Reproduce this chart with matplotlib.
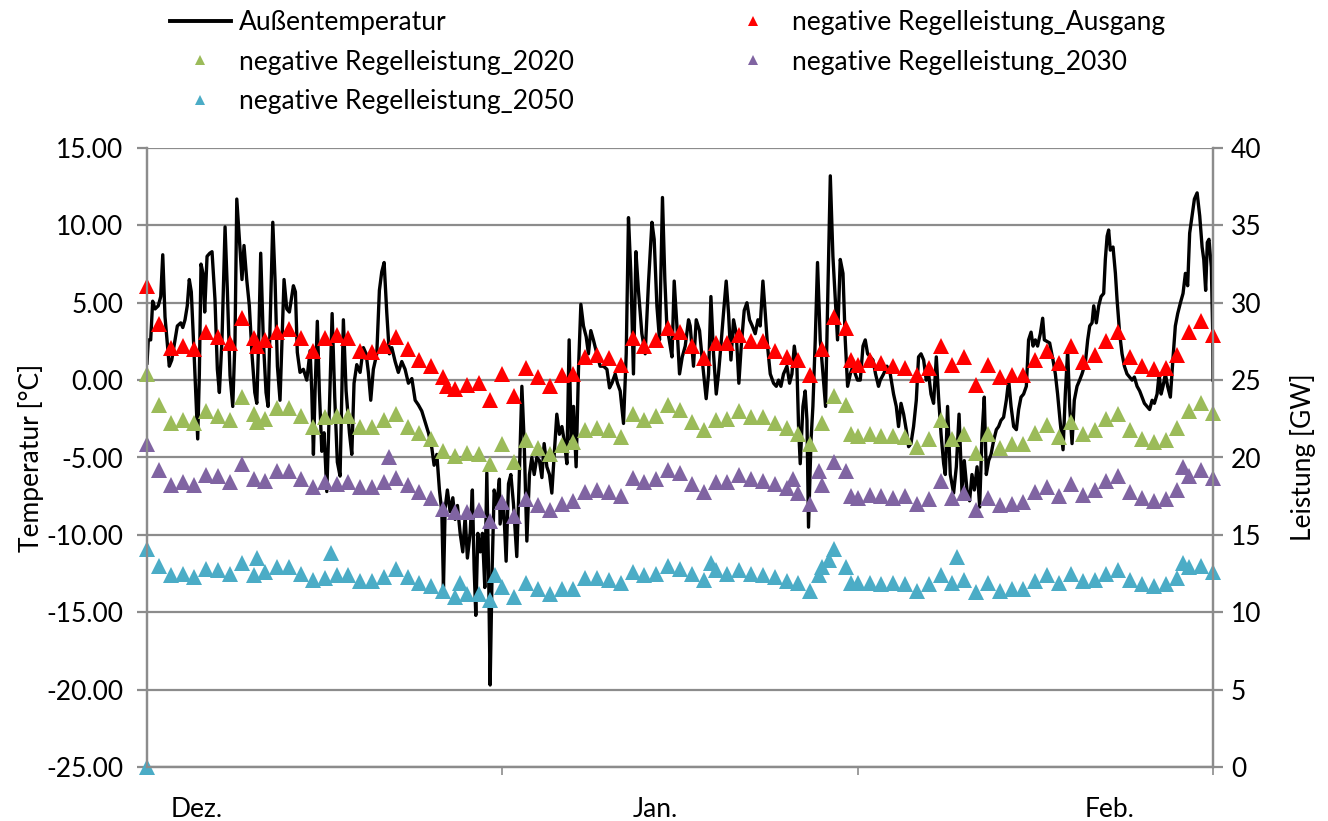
import numpy as np
import matplotlib.pyplot as plt
from matplotlib.lines import Line2D
from matplotlib.transforms import blended_transform_factory

plt.rcParams['font.family'] = ['Lato', 'DejaVu Sans']

# --- data -------------------------------------------------------------
# days since 1 Dec (0 .. 90), one value per day for the triangle series
days = np.arange(91)

ausgang = [31.1, 28.6, 27.1, 27.2, 27.0, 28.1, 27.8, 27.4, 29.0, 27.7,
           27.6, 28.1, 28.3, 27.7, 26.9, 27.7, 27.9, 27.7, 26.9, 26.8,
           27.2, 27.8, 27.0, 26.3, 25.9, 25.2, 24.4, 24.7, 24.8, 23.7,
           25.4, 24.0, 25.8, 25.2, 24.6, 25.3, 25.4, 26.5, 26.6, 26.4,
           26.0, 27.7, 27.2, 27.6, 28.4, 28.1, 27.2, 26.4, 27.4, 27.4,
           27.9, 27.5, 27.5, 26.9, 26.5, 26.3, 25.3, 27.0, 29.1, 28.4,
           26.0, 26.3, 26.1, 25.9, 25.8, 25.3, 25.8, 27.2, 26.0, 26.5,
           24.7, 26.0, 25.2, 25.3, 25.3, 26.3, 26.9, 26.1, 27.2, 26.2,
           26.6, 27.5, 28.1, 26.5, 25.9, 25.7, 25.8, 26.6, 28.1, 28.8,
           27.9]
r2020 = [25.4, 23.4, 22.2, 22.4, 22.2, 23.0, 22.7, 22.4, 23.9, 22.8,
         22.5, 23.2, 23.2, 22.7, 22.0, 22.6, 22.7, 22.7, 22.0, 22.0,
         22.4, 22.8, 22.0, 21.6, 21.2, 20.4, 20.1, 20.3, 20.2, 19.6,
         20.9, 19.7, 21.1, 20.6, 20.2, 20.8, 21.0, 21.8, 21.9, 21.8,
         21.3, 22.8, 22.4, 22.7, 23.4, 23.1, 22.3, 21.8, 22.4, 22.5,
         23.0, 22.6, 22.6, 22.2, 21.9, 21.5, 20.9, 22.2, 24.0, 23.4,
         21.4, 21.5, 21.4, 21.4, 21.3, 20.7, 21.2, 22.4, 21.2, 21.5,
         20.3, 21.5, 20.6, 20.9, 20.9, 21.6, 22.1, 21.3, 22.3, 21.5,
         21.8, 22.5, 22.8, 21.8, 21.2, 21.0, 21.1, 21.9, 23.0, 23.5,
         22.9]
r2030 = [20.9, 19.2, 18.2, 18.4, 18.2, 18.9, 18.8, 18.4, 19.6, 18.6,
         18.5, 19.1, 19.1, 18.6, 18.1, 18.4, 18.3, 18.4, 18.1, 18.1,
         18.4, 18.7, 18.2, 17.8, 17.4, 16.7, 16.5, 16.5, 16.6, 15.9,
         17.1, 16.2, 17.3, 16.9, 16.6, 17.0, 17.2, 17.8, 17.9, 17.8,
         17.5, 18.7, 18.4, 18.6, 19.2, 19.0, 18.3, 17.8, 18.4, 18.4,
         18.9, 18.6, 18.5, 18.3, 18.0, 17.7, 17.0, 18.2, 19.7, 19.1,
         17.4, 17.6, 17.5, 17.4, 17.5, 17.0, 17.3, 18.5, 17.4, 17.7,
         16.6, 17.4, 16.9, 17.0, 17.1, 17.8, 18.1, 17.5, 18.3, 17.6,
         17.9, 18.5, 18.8, 17.8, 17.4, 17.2, 17.3, 17.9, 18.8, 19.2,
         18.7]
r2050 = [14.1, 13.0, 12.4, 12.5, 12.3, 12.8, 12.7, 12.5, 13.2, 12.4,
         12.6, 12.9, 12.9, 12.5, 12.1, 12.2, 12.4, 12.4, 12.0, 12.0,
         12.3, 12.8, 12.3, 11.9, 11.7, 11.4, 11.0, 11.2, 11.2, 10.8,
         11.6, 11.0, 11.9, 11.5, 11.2, 11.5, 11.5, 12.2, 12.2, 12.1,
         11.9, 12.6, 12.4, 12.5, 13.0, 12.8, 12.5, 12.1, 12.7, 12.5,
         12.7, 12.5, 12.4, 12.3, 12.0, 11.9, 11.4, 12.9, 14.1, 12.9,
         11.9, 11.9, 11.8, 11.9, 11.8, 11.4, 11.8, 12.4, 11.9, 12.1,
         11.3, 11.9, 11.4, 11.5, 11.5, 12.0, 12.4, 11.9, 12.5, 12.0,
         12.1, 12.5, 12.7, 12.1, 11.8, 11.7, 11.8, 12.2, 12.9, 13.0,
         12.6]

# a few days carry a second value
ausgang_xd = [9.3, 25.3, 59.4]
ausgang_xv = [27.2, 24.6, 26.3]
r2020_xd = [9.3, 59.4]
r2020_xv = [22.3, 21.5]
r2030_xd = [20.4, 54.5, 56.7, 59.4, 87.5]
r2030_xv = [20.0, 18.6, 19.1, 17.5, 19.4]
r2050_xd = [0.0, 9.3, 15.5, 26.4, 29.4, 47.6, 56.7, 57.6, 59.4, 68.4, 87.5]
r2050_xv = [0.0, 13.5, 13.8, 11.9, 12.4, 13.2, 12.4, 13.4, 11.9, 13.6, 13.2]

# outside temperature (days, degC)
temp_day = [0.0, 0.11, 0.31, 0.48, 0.68, 0.95, 1.16, 1.33, 1.52, 1.71,
            1.88, 2.09, 2.28, 2.56, 2.85, 3.02, 3.21, 3.40, 3.57, 3.74,
            3.97, 4.28, 4.42, 4.56, 4.73, 4.87, 5.07, 5.30, 5.49, 5.74,
            5.94, 6.11, 6.33, 6.59, 6.78, 7.01, 7.24, 7.43, 7.58, 7.80,
            8.02, 8.19, 8.42, 8.64, 8.87, 9.10, 9.27, 9.43, 9.60, 9.82,
            10.05, 10.22, 10.39, 10.62, 10.81, 11.01, 11.23, 11.40, 11.57, 11.80,
            12.02, 12.36, 12.53, 12.69, 12.92, 13.20, 13.49,
            13.77, 13.91, 14.05, 14.19, 14.38, 14.55, 14.76, 14.95, 15.18, 15.40,
            15.63, 15.85, 16.07, 16.30, 16.58, 16.81, 17.09, 17.29, 17.48, 17.71,
            17.99, 18.27, 18.50, 18.69, 18.89, 19.11, 19.40, 19.62, 19.82, 20.02,
            20.24, 20.46, 20.67, 20.95, 21.22, 21.51, 21.79, 22.07, 22.36, 22.64,
            22.91, 23.20, 23.48, 23.76, 24.05, 24.24, 24.47, 24.69, 24.89, 25.03,
            25.17, 25.36, 25.59, 25.82, 26.01, 26.21, 26.44, 26.66, 26.86, 27.05,
            27.28, 27.47, 27.62, 27.76, 27.93, 28.13, 28.32, 28.52, 28.69, 28.86,
            28.97, 29.14, 29.31, 29.54, 29.75,
            29.81, 30.09, 30.32, 30.52, 30.72, 30.94, 31.22, 31.42, 31.65, 31.84,
            32.07, 32.29, 32.49, 32.69, 32.91, 33.13, 33.34, 33.53, 33.76, 33.98,
            34.18, 34.38, 34.60, 34.82, 35.03, 35.22, 35.45, 35.64, 35.81, 36.01,
            36.23, 36.43, 36.63, 36.85, 37.08, 37.27, 37.47, 37.69, 37.98, 38.26,
            38.54, 38.83, 39.05, 39.25, 39.53, 39.72, 39.95, 40.23, 40.46, 40.65,
            40.85, 41.07, 41.28, 41.49, 41.78, 42.06, 42.34, 42.63, 42.82, 43.05,
            43.27, 43.52, 43.72, 43.89, 44.09, 44.32, 44.51, 44.74, 44.96, 45.19,
            45.44, 45.72,
            45.86, 46.14, 46.37, 46.65, 46.93, 47.21, 47.41, 47.61, 47.83, 48.06,
            48.25, 48.45, 48.67, 48.90, 49.10, 49.30, 49.52, 49.75, 49.97, 50.17,
            50.42, 50.65, 50.87, 51.10, 51.35, 51.58, 51.77, 52.00, 52.20, 52.39,
            52.62, 52.90, 53.13, 53.32, 53.52, 53.74, 54.03, 54.25, 54.45, 54.65,
            54.87, 55.01, 55.15, 55.38, 55.57, 55.72, 55.85, 56.06, 56.22, 56.42,
            56.61, 56.84, 57.07, 57.29, 57.46, 57.69, 57.91, 58.11, 58.30, 58.53,
            58.76, 58.95, 59.15, 59.38, 59.60, 59.80, 59.99, 60.22, 60.45, 60.64,
            60.84, 61.06, 61.29, 61.51, 61.76,
            61.91, 62.19, 62.47, 62.75, 63.03, 63.26, 63.45, 63.66, 63.88, 64.10,
            64.30, 64.50, 64.72, 64.95, 65.14, 65.35, 65.57, 65.79, 65.99, 66.19,
            66.41, 66.64, 66.83, 67.04, 67.26, 67.40, 67.59, 67.82, 68.10, 68.33,
            68.56, 68.81, 69.00, 69.23, 69.45, 69.65, 69.85, 70.08, 70.30, 70.50,
            70.69, 70.86, 71.06, 71.26, 71.48, 71.71, 71.90, 72.10, 72.32, 72.55,
            72.75, 72.95, 73.17, 73.40, 73.59, 73.79, 74.01, 74.24, 74.43, 74.64,
            74.81, 75.00, 75.19, 75.42, 75.62, 75.76, 75.99, 76.21,
            76.49, 76.69, 76.88, 77.11, 77.34, 77.53, 77.73, 77.90, 78.10, 78.29,
            78.52, 78.74, 78.94, 79.22, 79.42, 79.59, 79.79, 79.93, 80.15, 80.35,
            80.55, 80.77, 80.91, 81.06, 81.19, 81.33, 81.56, 81.76, 81.90, 82.12,
            82.32, 82.52, 82.74, 82.96, 83.17, 83.36, 83.59, 83.81, 84.01, 84.21,
            84.43, 84.65, 84.86, 85.05, 85.28, 85.45, 85.62, 85.78, 85.98, 86.17,
            86.40, 86.63, 86.82, 87.02, 87.25, 87.47, 87.67, 87.86, 88.03, 88.23,
            88.43, 88.66, 88.88, 89.08, 89.22, 89.38, 89.52, 89.66, 89.86, 89.99,
            90.0]
temp_val = [1.1, 2.6, 2.6, 5.1, 4.6, 4.8, 5.4, 8.1, 4.1, 2.4,
            0.9, 1.3, 2.2, 3.5, 3.7, 3.4, 3.9, 4.8, 6.5, 5.7,
            1.8, -3.8, 0.4, 7.5, 6.9, 4.4, 8.0, 8.2, 8.3, 5.2,
            0.7, -0.8, 2.6, 9.9, 5.9, 0.3, -1.7, 2.6, 11.7, 9.1,
            6.5, 8.7, 6.5, 4.8, 1.6, -0.8, -1.5, 2.6, 8.2, 2.6,
            -0.8, -1.7, 3.5, 10.2, 6.5, 0.9, -1.3, 2.6, 6.5, 4.6,
            4.4, 6.1, 5.7, 1.8, 0.5, 0.7, 0.0,
            1.9, -0.7, -4.8, -0.7, 3.8, -0.7, -4.6, -3.4, -7.2, -1.8,
            4.3, -1.1, -5.3, -6.2, 3.9, -0.7, -3.4, -4.8, -0.2, 1.0,
            0.5, 2.1, 1.7, 0.5, -1.3, 0.7, 1.7, 5.8, 7.0, 7.6,
            4.4, 1.7, 2.1, 1.2, 0.5, 1.2, 0.7, -0.2, 0.1, -1.3,
            -1.6, -2.0, -2.7, -3.4, -4.4, -5.5, -4.8, -7.1, -8.5, -13.4,
            -8.3, -7.1, -8.5, -7.6, -9.0, -8.1, -9.9, -11.1, -8.8, -11.5,
            -9.9, -7.1, -12.2, -15.2, -9.9, -11.1, -9.9, -13.4, -6.0, -13.4,
            -19.7, -12.2, -7.1, -8.1, -6.4,
            -9.3, -7.8, -11.7, -6.7, -6.1, -8.0, -11.4, -6.5, -0.4, -3.9,
            -10.4, -6.1, -5.0, -6.1, -5.0, -5.2, -6.3, -4.1, -5.6, -6.1,
            -7.3, -4.8, -2.2, -3.5, -3.0, -3.9, -5.4, 2.6, -3.9, -1.7,
            -5.6, 0.7, 4.9, 3.5, 2.8, 1.7, 3.2, 2.6, 1.7, 0.9,
            0.9, 0.7, -0.5, -0.2, 0.4, -0.2, -0.7, -2.8, 1.7, 10.5,
            6.9, 0.4, 8.3, 5.8, 3.0, 1.7, 6.3, 10.2, 9.1, 4.8,
            2.6, 11.8, 6.5, 3.5, 2.6, 1.5, 6.4, 3.5, 0.4, 1.5,
            2.2, 3.9,
            3.5, 0.9, 3.9, 3.2, 0.9, -1.2, 0.4, 5.4, 1.7, -0.9,
            0.4, 2.2, 4.3, 6.4, 4.3, 1.3, 3.9, 3.0, -0.2, 2.2,
            4.5, 5.0, 3.9, 3.5, 3.0, 3.9, 3.5, 6.4, 4.3, 2.2,
            0.4, -0.2, -0.4, 0.0, -0.4, 0.4, 0.9, -0.2, 0.4, 2.2,
            0.9, -3.0, -5.4, -1.7, -0.7, -2.6, -9.5, -3.9, -1.7, 2.6,
            7.6, 2.6, 0.4, -1.7, 4.8, 13.2, 8.0, 5.2, 2.6, 7.8,
            6.9, 2.6, -0.4, 0.4, 0.9, 0.4, 0.0, 0.0, 2.2, 2.6,
            1.7, 1.5, 1.3, 0.4, -0.4,
            0.0, 0.4, 0.9, 0.4, -0.9, -1.7, -3.0, -1.5, -2.2, -3.2,
            -4.3, -4.1, -3.0, -1.3, 1.5, 1.7, 1.3, 0.0, 0.4, -0.9,
            -1.5, 1.5, -1.1, -3.5, -5.4, -6.1, -1.7, -6.1, -7.3, -5.6,
            -2.2, -7.3, -5.2, -7.1, -7.8, -6.1, -7.1, -5.6, -8.2, -3.5,
            -1.1, -6.1, -5.2, -4.8, -3.9, -3.2, -3.0, -2.6, -2.4, -1.3,
            0.0, -1.7, -3.0, -3.2, -1.9, -1.1, -0.9, -0.4, 2.6, 3.1,
            2.2, 2.6, 2.2, 3.0, 4.0, 2.6, 2.5, 2.4,
            1.3, 0.4, -0.9, -2.8, -4.5, -0.9, 1.9, -1.7, -4.1, -1.3,
            -0.4, 0.0, 0.4, 1.1, 2.6, 3.5, 3.7, 4.8, 3.7, 4.8,
            5.4, 5.6, 7.8, 9.3, 9.7, 8.4, 8.6, 6.9, 5.2, 3.0,
            1.7, 0.9, 0.4, 0.2, 0.0, 0.2, -0.4, -0.7, -1.1, -1.5,
            -1.7, -1.9, -1.3, -1.5, -0.9, 0.4, -0.9, -0.4, 0.4, -0.4,
            -1.1, 1.5, 3.5, 4.3, 5.0, 5.6, 6.9, 6.1, 9.5, 10.6,
            11.7, 12.1, 10.6, 8.6, 7.8, 5.8, 8.9, 9.1, 7.3, 2.6,
            0.0]

month_labels = ['Dez.', 'Jan.', 'Feb.']
month_label_pos = [4.2, 42.9, 81.3]
major_ticks = [0, 30, 60, 90]

red = '#FF0000'
green = '#9BBB59'
purple = '#8064A2'
cyan = '#4BACC6'
grid_c = '#8C8C8C'

# --- figure -----------------------------------------------------------
fig = plt.figure(figsize=(13.28, 8.21), dpi=100)
ax = fig.add_axes([147 / 1328, 1 - 767 / 821, 1066 / 1328, 619 / 821])
ax2 = ax.twinx()

ax.plot(temp_day, temp_val, color='black', lw=2.4, zorder=2)

ms = 11
for vals, xd, xv, col in [(ausgang, ausgang_xd, ausgang_xv, red),
                          (r2020, r2020_xd, r2020_xv, green),
                          (r2030, r2030_xd, r2030_xv, purple),
                          (r2050, r2050_xd, r2050_xv, cyan)]:
    ax2.plot(days, vals, ls='none', marker='^', ms=ms, mew=0, color=col,
             clip_on=False)
    ax2.plot(xd, xv, ls='none', marker='^', ms=ms, mew=0, color=col,
             clip_on=False)

ax.set_xlim(0, 90)
ax.set_ylim(-25, 15)
ax2.set_ylim(0, 40)

ax.set_yticks(np.arange(-25, 16, 5))
ax.set_yticklabels(['%.2f' % v for v in np.arange(-25, 16, 5)])
ax2.set_yticks(np.arange(0, 41, 5))
ax.yaxis.grid(True, color=grid_c, lw=1.6)
ax.set_axisbelow(True)

ax.set_xticks(major_ticks)
ax.set_xticklabels([])
trans = blended_transform_factory(ax.transData, ax.transAxes)
for lab, pos in zip(month_labels, month_label_pos):
    ax.text(pos, -0.068, lab, transform=trans, ha='center', va='center',
            fontsize=19)

for a in (ax, ax2):
    for s in a.spines.values():
        s.set_color(grid_c)
        s.set_linewidth(1.6)
    a.spines['top'].set_visible(False)
ax.tick_params(axis='x', length=6, width=1.2, color=grid_c)
ax.tick_params(axis='y', length=7, width=1.6, color=grid_c, labelsize=19,
               pad=10)
ax2.tick_params(axis='y', length=7, width=1.6, color=grid_c, labelsize=19,
                pad=6)

ax.set_ylabel('Temperatur [°C]', fontsize=19)
ax.yaxis.set_label_coords(-0.097, 0.5)
ax2.set_ylabel('Leistung [GW]', fontsize=19, rotation=90)
ax2.yaxis.set_label_coords(1.072, 0.5)

# --- legend -----------------------------------------------------------
h_temp = Line2D([], [], color='black', lw=2.8)
def tri(c):
    return Line2D([], [], ls='none', marker='^', ms=6.5, mew=0, color=c)

leg_kw = dict(frameon=False, fontsize=19, loc='upper left', borderpad=0,
              borderaxespad=0, handlelength=2.3, handletextpad=0.3,
              labelspacing=0.56)
leg1 = fig.legend([h_temp, tri(green), tri(cyan)],
                  ['Außentemperatur', 'negative Regelleistung_2020',
                   'negative Regelleistung_2050'],
                  bbox_to_anchor=(170 / 1328, 0.988), **leg_kw)
leg2 = fig.legend([tri(red), tri(purple)],
                  ['negative Regelleistung_Ausgang',
                   'negative Regelleistung_2030'],
                  bbox_to_anchor=(723 / 1328, 0.988), **leg_kw)

fig.savefig('out.png', dpi=100)
